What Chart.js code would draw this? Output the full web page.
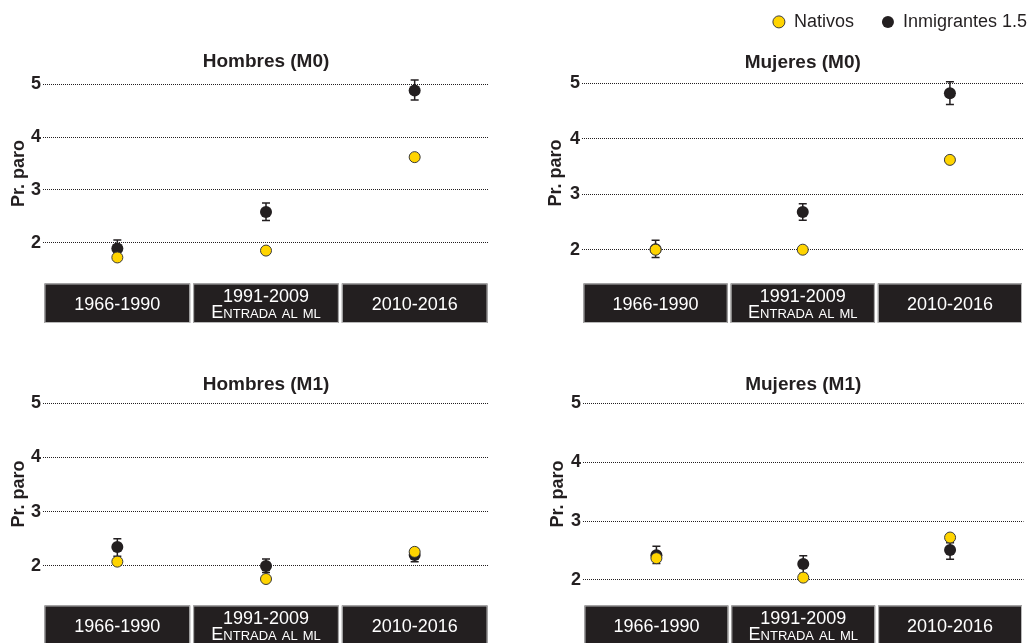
<!DOCTYPE html>
<html>
<head>
<meta charset="utf-8">
<script src="https://cdn.jsdelivr.net/npm/chart.js@4.4.1/dist/chart.umd.min.js"></script>
<style>
  body { margin: 0; background: #fff; width: 1030px; height: 643px; overflow: hidden; position: relative; }
  .panel { position: absolute; }
</style>
</head>
<body>
<div class="panel" style="left:0;top:0;width:500px;height:330px"><canvas id="hombresM0"></canvas></div>
<div class="panel" style="left:540px;top:0;width:490px;height:330px"><canvas id="mujeresM0"></canvas></div>
<div class="panel" style="left:0;top:330px;width:500px;height:320px"><canvas id="hombresM1"></canvas></div>
<div class="panel" style="left:540px;top:330px;width:490px;height:320px"><canvas id="mujeresM1"></canvas></div>
<script>
// periods on the x axis
const periods = ['1966-1990', ['1991-2009', 'Entrada al ml'], '2010-2016'];
const yTicks = [2, 3, 4, 5];

// Hombres (M0)
const hM0Nat = [1.72, 1.85, 3.62];
const hM0Imm = [1.89, 2.58, 4.88];
const hM0Lo = [1.75, 2.42, 4.70];
const hM0Hi = [2.05, 2.75, 5.08];

// Mujeres (M0)
const mM0Nat = [2.00, 2.00, 3.62];
const mM0Imm = [2.01, 2.68, 4.82];
const mM0Lo = [1.86, 2.53, 4.62];
const mM0Hi = [2.17, 2.83, 5.03];

// Hombres (M1)
const hM1Nat = [2.08, 1.76, 2.26];
const hM1Imm = [2.35, 2.00, 2.20];
const hM1Lo = [2.18, 1.88, 2.08];
const hM1Hi = [2.50, 2.13, 2.32];

// Mujeres (M1)
const mM1Nat = [2.37, 2.04, 2.72];
const mM1Imm = [2.42, 2.27, 2.51];
const mM1Lo = [2.28, 2.11, 2.35];
const mM1Hi = [2.57, 2.41, 2.63];

const DARK = '#231f20';
const YELLOW = '#ffd400';
const FONT = "'Liberation Sans', Arial, Helvetica, sans-serif";

Chart.defaults.font.family = FONT;
Chart.defaults.color = DARK;

// dark boxes behind the period labels
const boxPlugin = {
  id: 'periodBoxes',
  beforeDraw(chart) {
    const x = chart.scales.x, ctx = chart.ctx;
    const top = x.top + 15.5, bottom = x.bottom;
    const n = x.ticks.length, w = (x.right - x.left) / n;
    ctx.save();
    for (let i = 0; i < n; i++) {
      const l = x.left + i * w + 1.5, r = x.left + (i + 1) * w - 1.5;
      ctx.fillStyle = DARK;
      ctx.fillRect(l, top, r - l, bottom - top);
      ctx.strokeStyle = '#b8b8b8';
      ctx.lineWidth = 1;
      ctx.strokeRect(l + 0.5, top + 0.5, r - l - 1, bottom - top - 1);
    }
    ctx.restore();
  }
};

// error bars for the immigrant series
const errPlugin = {
  id: 'errorBars',
  beforeDatasetsDraw(chart) {
    const ctx = chart.ctx, ys = chart.scales.y;
    chart.data.datasets.forEach((ds, di) => {
      if (!ds.errLo) return;
      chart.getDatasetMeta(di).data.forEach((pt, i) => {
        const y1 = ys.getPixelForValue(ds.errLo[i]);
        const y2 = ys.getPixelForValue(ds.errHi[i]);
        ctx.save();
        ctx.strokeStyle = DARK;
        ctx.lineWidth = 1.5;
        ctx.beginPath();
        ctx.moveTo(pt.x, y1); ctx.lineTo(pt.x, y2);
        ctx.moveTo(pt.x - 4, y1); ctx.lineTo(pt.x + 4, y1);
        ctx.moveTo(pt.x - 4, y2); ctx.lineTo(pt.x + 4, y2);
        ctx.stroke();
        ctx.restore();
      });
    });
  }
};

function panel(id, c) {
  return new Chart(document.getElementById(id), {
    type: 'line',
    data: {
      labels: periods,
      datasets: [
        {
          label: 'Nativos', data: c.nat, showLine: false, order: c.natOrder || 0,
          pointRadius: 5.5, pointBorderWidth: 1,
          pointBackgroundColor: YELLOW, pointBorderColor: '#3a3a3a',
          backgroundColor: YELLOW, borderColor: '#3a3a3a', borderWidth: 1
        },
        {
          label: 'Inmigrantes 1.5', data: c.imm, errLo: c.lo, errHi: c.hi, showLine: false, order: c.immOrder || 1,
          pointRadius: 6, pointBorderWidth: 0,
          pointBackgroundColor: DARK, pointBorderColor: DARK,
          backgroundColor: DARK, borderColor: DARK, borderWidth: 0
        }
      ]
    },
    options: {
      responsive: true,
      maintainAspectRatio: false,
      animation: false,
      layout: { padding: c.pad },
      plugins: {
        legend: c.legend ? {
          display: true, position: 'top', align: 'end', weight: 3000,
          labels: {
            usePointStyle: true, pointStyle: 'circle', boxWidth: 12, boxHeight: 8.5,
            font: { size: 18 }, color: DARK, padding: 3,
            generateLabels: chart => {
              const items = Chart.defaults.plugins.legend.labels.generateLabels(chart);
              // spacing after the first entry
              items[0].text = items[0].text + '     ';
              return items;
            }
          }
        } : { display: false },
        title: {
          display: true, text: c.title, fullSize: false,
          font: { size: 19, weight: 'bold' }, color: DARK, padding: c.titlePad
        },
        tooltip: { enabled: false }
      },
      scales: {
        x: {
          offset: true,
          grid: { display: false, drawTicks: false },
          border: { display: false },
          ticks: {
            color: '#fff', font: { size: 18, weight: 'small-caps', lineHeight: 0.92 },
            padding: 28.7, maxRotation: 0, autoSkip: false, crossAlign: 'center'
          },
          afterFit: s => { s.height = 55; }
        },
        y: {
          min: c.min, max: c.max,
          afterBuildTicks: s => { s.ticks = yTicks.map(v => ({ value: v })); },
          afterFit: s => { s.width = c.yw; },
          grid: { color: DARK, lineWidth: 1, drawTicks: false },
          border: { display: false, dash: [1, 1] },
          ticks: { font: { size: 18, weight: 'bold' }, color: DARK, padding: 2 },
          title: {
            display: true, text: 'Pr. paro', font: { size: 18, weight: 'bold' }, color: DARK,
            padding: { top: c.tp, bottom: 0 }
          }
        }
      }
    },
    plugins: [boxPlugin, errPlugin]
  });
}

panel('hombresM0', {
  title: 'Hombres (M0)', nat: hM0Nat, imm: hM0Imm, lo: hM0Lo, hi: hM0Hi,
  min: 1.52, max: 5.1, yw: 43, tp: 8.5,
  pad: { top: 0, right: 11, bottom: 7, left: 0 }, titlePad: { top: 50.6, bottom: 5.6 }
});
panel('mujeresM0', {
  title: 'Mujeres (M0)', nat: mM0Nat, imm: mM0Imm, lo: mM0Lo, hi: mM0Hi,
  min: 1.67, max: 5.095, yw: 42, tp: 5.4, legend: true,
  pad: { top: 9.9, right: 0, bottom: 7, left: 0 }, titlePad: { top: 10.8, bottom: 3.6 }
});
panel('hombresM1', {
  title: 'Hombres (M1)', nat: hM1Nat, imm: hM1Imm, lo: hM1Lo, hi: hM1Hi,
  min: 1.557, max: 5.1, yw: 43, tp: 8.5,
  pad: { top: 0, right: 11, bottom: 5, left: 0 }, titlePad: { top: 43.6, bottom: 1.4 }
});
panel('mujeresM1', {
  title: 'Mujeres (M1)', nat: mM1Nat, imm: mM1Imm, lo: mM1Lo, hi: mM1Hi,
  min: 1.83, max: 5.09, yw: 43, tp: 7.2, natOrder: 1, immOrder: 0,
  pad: { top: 0, right: 3, bottom: 5, left: 0 }, titlePad: { top: 43.6, bottom: 1.4 }
});
</script>
</body>
</html>
